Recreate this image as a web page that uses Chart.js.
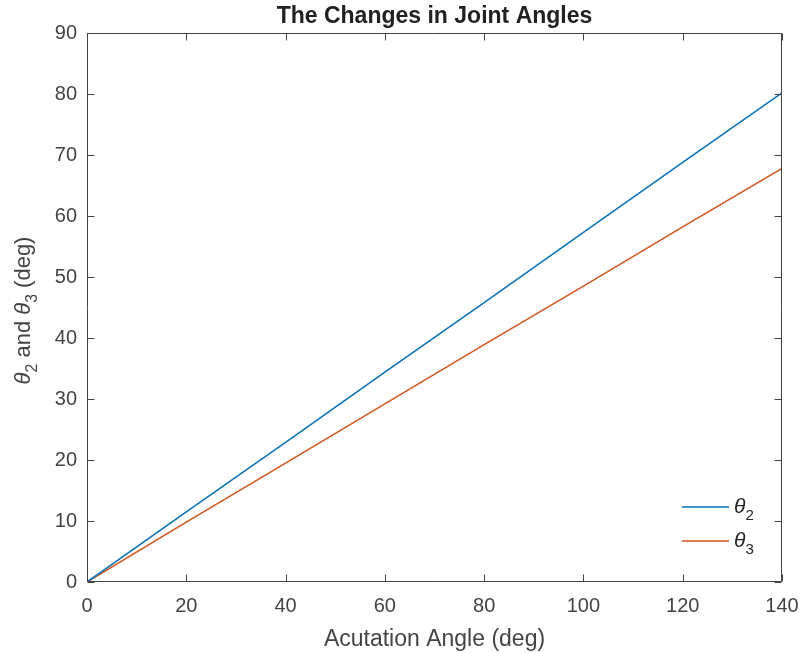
<!DOCTYPE html>
<html>
<head>
<meta charset="utf-8">
<script src="https://cdn.jsdelivr.net/npm/chart.js@4/dist/chart.umd.min.js"></script>
<style>
  html, body { margin: 0; padding: 0; background: #ffffff; }
  #wrap { width: 801px; height: 653px; }
</style>
</head>
<body>
<div id="wrap"><canvas id="c" width="801" height="653"></canvas></div>
<script>
// Actuation angle samples (deg) and resulting joint angles (deg)
const actuationAngle = [0, 20, 40, 60, 80, 100, 120, 140];
const theta2 = [0, 11.5, 22.9, 34.4, 45.8, 57.3, 68.8, 80.2];
const theta3 = [0, 9.8, 19.5, 29.2, 38.9, 48.5, 58.2, 67.8];

// Axis ticks
const xTicks = [0, 20, 40, 60, 80, 100, 120, 140];
const yTicks = [0, 10, 20, 30, 40, 50, 60, 70, 80, 90];

const FONT = '"Liberation Sans", Arial, Helvetica, sans-serif';
const AXIS_COLOR = '#444444';
const BLUE = '#0072BD';
const ORANGE = '#D95319';

const toPoints = (xs, ys) => xs.map((x, i) => ({ x: x, y: ys[i] }));

// Draws a run of text segments; each segment may be italic and/or subscript
function richWidth(ctx, parts, size) {
  let w = 0;
  for (const p of parts) {
    const s = p.sub ? size * 0.72 : size;
    ctx.font = (p.italic ? 'italic ' : '') + s + 'px ' + FONT;
    w += ctx.measureText(p.t).width;
  }
  return w;
}
function drawRich(ctx, parts, x, y, size) {
  for (const p of parts) {
    const s = p.sub ? size * 0.72 : size;
    ctx.font = (p.italic ? 'italic ' : '') + s + 'px ' + FONT;
    ctx.fillText(p.t, x, y + (p.sub ? size * 0.34 : 0));
    x += ctx.measureText(p.t).width;
  }
  return x;
}

// Box around the axes with inward ticks on all four sides, y title and legend
const matlabAxes = {
  id: 'matlabAxes',
  afterDraw(chart) {
    const ctx = chart.ctx;
    const a = chart.chartArea;
    const xs = chart.scales.x, ys = chart.scales.y;
    const L = Math.round(a.left) + 0.5, R = Math.round(a.right) - 0.5;
    const T = Math.round(a.top) + 0.5, B = Math.round(a.bottom) - 0.5;
    const tl = 7;
    ctx.save();
    ctx.strokeStyle = AXIS_COLOR;
    ctx.lineWidth = 1;
    ctx.beginPath();
    ctx.rect(L, T, R - L, B - T);
    for (const v of xTicks) {
      const px = Math.round(xs.getPixelForValue(v)) + 0.5;
      ctx.moveTo(px, B); ctx.lineTo(px, B - tl);
      ctx.moveTo(px, T); ctx.lineTo(px, T + tl);
    }
    for (const v of yTicks) {
      const py = Math.round(ys.getPixelForValue(v)) + 0.5;
      ctx.moveTo(L, py); ctx.lineTo(L + tl, py);
      ctx.moveTo(R, py); ctx.lineTo(R - tl, py);
    }
    ctx.stroke();

    // y-axis title with italic theta and subscripts
    const size = 22;
    const yTitle = [
      { t: 'θ', italic: true }, { t: '2', sub: true },
      { t: ' and ' },
      { t: 'θ', italic: true }, { t: '3', sub: true },
      { t: ' (deg)' }
    ];
    ctx.fillStyle = AXIS_COLOR;
    ctx.textBaseline = 'alphabetic';
    ctx.textAlign = 'left';
    ctx.translate(30, (a.top + a.bottom) / 2 + 3);
    ctx.rotate(-Math.PI / 2);
    const w = richWidth(ctx, yTitle, size);
    drawRich(ctx, yTitle, -w / 2, 0, size);
    ctx.setTransform(1, 0, 0, 1, 0, 0);

    // legend in the lower-right corner
    const entries = chart.data.datasets;
    const lx0 = a.right - 100, lx1 = a.right - 53;
    const rowY = [a.bottom - 75, a.bottom - 41];
    entries.forEach((ds, i) => {
      ctx.strokeStyle = ds.borderColor;
      ctx.lineWidth = 1.5;
      ctx.beginPath();
      ctx.moveTo(lx0, rowY[i]); ctx.lineTo(lx1, rowY[i]);
      ctx.stroke();
      ctx.fillStyle = '#262626';
      drawRich(ctx, [{ t: 'θ', italic: true }, { t: ds.label.slice(1), sub: true }],
        lx1 + 5, rowY[i] + 6, 21);
    });
    ctx.restore();
  }
};

new Chart(document.getElementById('c'), {
  type: 'line',
  data: {
    datasets: [
      { label: 'θ2', data: toPoints(actuationAngle, theta2), borderColor: BLUE,
        borderWidth: 1.5, pointRadius: 0, fill: false, tension: 0 },
      { label: 'θ3', data: toPoints(actuationAngle, theta3), borderColor: ORANGE,
        borderWidth: 1.5, pointRadius: 0, fill: false, tension: 0 }
    ]
  },
  options: {
    responsive: false,
    animation: false,
    layout: { padding: { left: 0, right: 0, top: 0, bottom: 0 } },
    plugins: {
      legend: { display: false },
      tooltip: { enabled: false },
      title: {
        display: true,
        text: 'The Changes in Joint Angles',
        fullSize: false,
        color: '#222222',
        font: { family: FONT, size: 23, weight: 'bold', lineHeight: 1.2 },
        padding: { top: 3, bottom: 2.4 }
      }
    },
    scales: {
      x: {
        type: 'linear',
        min: 0, max: 140,
        afterBuildTicks: (s) => { s.ticks = xTicks.map(v => ({ value: v })); },
        afterFit: (s) => { s.height = 71; s.paddingRight = 19; s.paddingLeft = 0; },
        grid: { display: false, drawTicks: false },
        border: { display: false },
        ticks: { color: AXIS_COLOR, padding: 12, maxRotation: 0,
          font: { family: FONT, size: 20 } },
        title: {
          display: true, text: 'Acutation Angle (deg)', color: AXIS_COLOR,
          font: { family: FONT, size: 23 }, padding: { top: 3, bottom: 0 }
        }
      },
      y: {
        type: 'linear',
        min: 0, max: 90,
        afterBuildTicks: (s) => { s.ticks = yTicks.map(v => ({ value: v })); },
        afterFit: (s) => { s.width = 87; },
        grid: { display: false, drawTicks: false },
        border: { display: false },
        ticks: { color: AXIS_COLOR, padding: 10,
          font: { family: FONT, size: 20 } }
      }
    }
  },
  plugins: [matlabAxes]
});
</script>
</body>
</html>
